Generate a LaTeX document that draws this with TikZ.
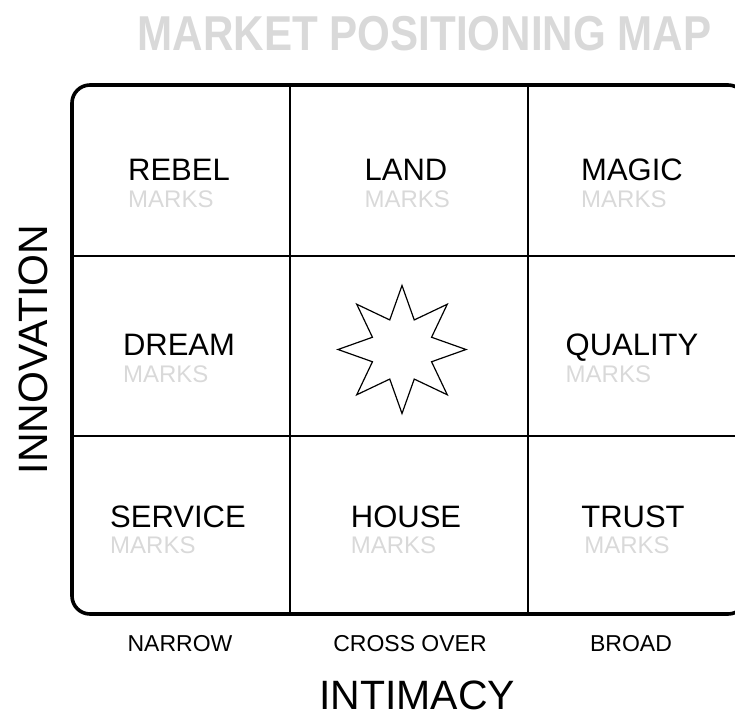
\documentclass[tikz,border=0pt]{standalone}
\usepackage{fontspec}
\setmainfont{Liberation Sans}
\usepackage{xcolor}
\usepackage{tikz}
\usetikzlibrary{positioning,shapes.geometric}

\definecolor{markgray}{RGB}{217,217,217}

\begin{document}
\begin{tikzpicture}[
    x=1pt, y=-1pt,
    brand/.style={inner sep=0pt, anchor=base, font=\fontsize{31}{31}\selectfont},
    marks/.style={inner sep=0pt, anchor=base west, text=markgray, font=\fontsize{24}{24}\selectfont},
    scale label/.style={inner sep=0pt, anchor=base, font=\fontsize{23}{23}\selectfont},
    axis label/.style={inner sep=0pt, anchor=base, text depth=0pt, font=\fontsize{41}{41}\selectfont},
    grid line/.style={line width=1.4pt},
    frame/.style={line width=3.6pt, rounded corners=18pt}
]
\useasboundingbox (0,0) rectangle (735,718);
\clip (0,0) rectangle (735,718);

% title
\node[inner sep=0pt, anchor=base, text=markgray, font=\bfseries\fontsize{49}{49}\selectfont] (title) at (424.5,50) {\scalebox{0.86}[1]{MARKET POSITIONING MAP}};

% 3x3 grid
\draw[grid line] (290,85) -- (290,614);
\draw[grid line] (528,85) -- (528,614);
\draw[grid line] (72,256) -- (746,256);
\draw[grid line] (72,436) -- (746,436);
\draw[frame] (72,85) rectangle (746,614);

% top row
\node[brand] (rebel) at (179,180) {REBEL};
\node[marks] (rebelmarks) at ([yshift=-27pt]rebel.base west) {MARKS};
\node[brand] (land) at (406,180) {LAND};
\node[marks] (landmarks) at ([yshift=-27pt]land.base west) {MARKS};
\node[brand] (magic) at (632,180) {MAGIC};
\node[marks] (magicmarks) at ([yshift=-27pt]magic.base west) {MARKS};

% middle row
\node[brand] (dream) at (179,355) {DREAM};
\node[marks] (dreammarks) at ([yshift=-27pt]dream.base west) {MARKS};
\node[star, star points=8, star point ratio=2, minimum size=128pt, draw, line width=1.2pt] (burst) at (402,349.5) {};
\node[brand] (quality) at (632,355) {QUALITY};
\node[marks] (qualitymarks) at ([yshift=-27pt]quality.base west) {MARKS};

% bottom row
\node[brand] (service) at (178,527) {SERVICE};
\node[marks] (servicemarks) at ([yshift=-26pt]service.base west) {MARKS};
\node[brand] (house) at (406,527) {HOUSE};
\node[marks] (housemarks) at ([yshift=-26pt]house.base west) {MARKS};
\node[brand] (trust) at (633,527) {TRUST};
\node[marks] (trustmarks) at ([xshift=3pt,yshift=-26pt]trust.base west) {MARKS};

% axes
\node[scale label] (narrow) at (180,651) {NARROW};
\node[scale label] (crossover) at (410,651) {CROSS OVER};
\node[scale label] (broad) at (631,651) {BROAD};
\node[axis label] (intimacy) at (417,709) {INTIMACY};
\node[axis label, rotate=90] (innovation) at (47,349.5) {INNOVATION};
\end{tikzpicture}
\end{document}
